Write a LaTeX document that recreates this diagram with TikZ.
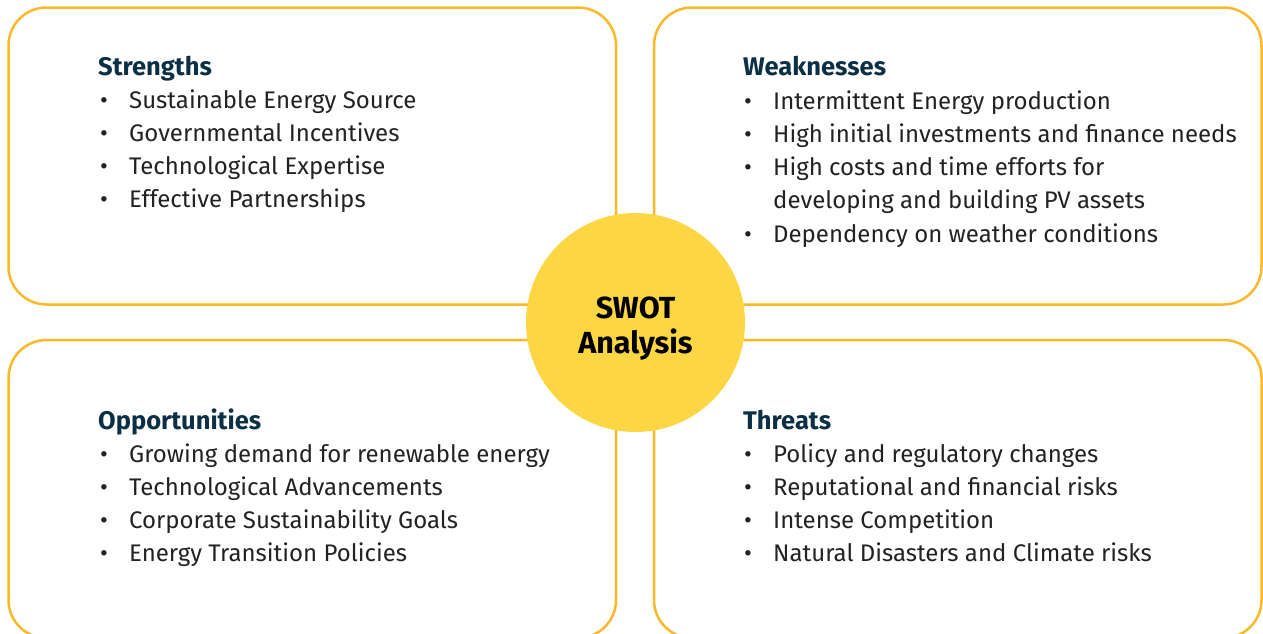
\documentclass[tikz,border=0pt]{standalone}
\usepackage{fontspec}
\setmainfont{Fira Sans}
\usepackage{xcolor}
\definecolor{swotedge}{HTML}{FBB829}
\definecolor{swotfill}{HTML}{FDD643}
\definecolor{swothead}{HTML}{0B3045}
\definecolor{swottext}{HTML}{222222}
\newcommand{\itembul}{\makebox[29pt][l]{\textbullet}}

\begin{document}
\begin{tikzpicture}[x=1pt, y=-1pt,
    panel/.style={draw=swotedge, line width=2.5pt, rounded corners=38pt},
    hub/.style={circle, fill=swotfill, minimum size=219pt, inner sep=0pt},
    hubtext/.style={align=center, inner sep=0pt, text=black,
                    font=\fontsize{30.5}{35}\selectfont\bfseries},
    head/.style={anchor=base west, inner sep=0pt, text=swothead,
                 font=\fontsize{25.5}{33}\selectfont\bfseries},
    entry/.style={anchor=base west, inner sep=0pt, text=swottext, align=left,
                  font=\fontsize{24}{33.3}\selectfont}]
    \useasboundingbox (0,0) rectangle (1263,633);
    \clip (0,0) rectangle (1263,633);
    % the four panels
    \draw[panel] (8.5,7.5) rectangle (616,304.5);
    \draw[panel] (654,7.5) rectangle (1261.5,304.5);
    \draw[panel] (8.5,340) rectangle (616,638);
    \draw[panel] (654,340) rectangle (1261.5,638);
    % centre
    \node[hub] (swot) at (635.5,322.5) {};
    \node[hubtext, yshift=-6pt] (swotLabel) at (swot) {SWOT\\Analysis};
    % strengths
    \node[head] (sHead) at (98,75) {Strengths};
    \node[entry] (s1) at (100,108) {\itembul Sustainable Energy Source};
    \node[entry] (s2) at (100,141.3) {\itembul Governmental Incentives};
    \node[entry] (s3) at (100,174.6) {\itembul Technological Expertise};
    \node[entry] (s4) at (100,207.9) {\itembul Effective Partnerships};
    % weaknesses
    \node[head] (wHead) at (743,75) {Weaknesses};
    \node[entry] (w1) at (744,109) {\itembul Intermittent Energy production};
    \node[entry] (w2) at (744,142.3) {\itembul High initial investments and finance needs};
    % two lines, base is the lower one
    \node[entry] (w3) at (744,208.9) {\itembul High costs and time efforts for\\
        \hspace*{29pt}developing and building PV assets};
    \node[entry] (w4) at (744,242.2) {\itembul Dependency on weather conditions};
    % opportunities
    \node[head] (oHead) at (98,429) {Opportunities};
    \node[entry] (o1) at (100,462) {\itembul Growing demand for renewable energy};
    \node[entry] (o2) at (100,495.3) {\itembul Technological Advancements};
    \node[entry] (o3) at (100,528.6) {\itembul Corporate Sustainability Goals};
    \node[entry] (o4) at (100,561.9) {\itembul Energy Transition Policies};
    % threats
    \node[head] (tHead) at (743,429) {Threats};
    \node[entry] (t1) at (744,462) {\itembul Policy and regulatory changes};
    \node[entry] (t2) at (744,495.3) {\itembul Reputational and financial risks};
    \node[entry] (t3) at (744,528.6) {\itembul Intense Competition};
    \node[entry] (t4) at (744,561.9) {\itembul Natural Disasters and Climate risks};
\end{tikzpicture}
\end{document}
